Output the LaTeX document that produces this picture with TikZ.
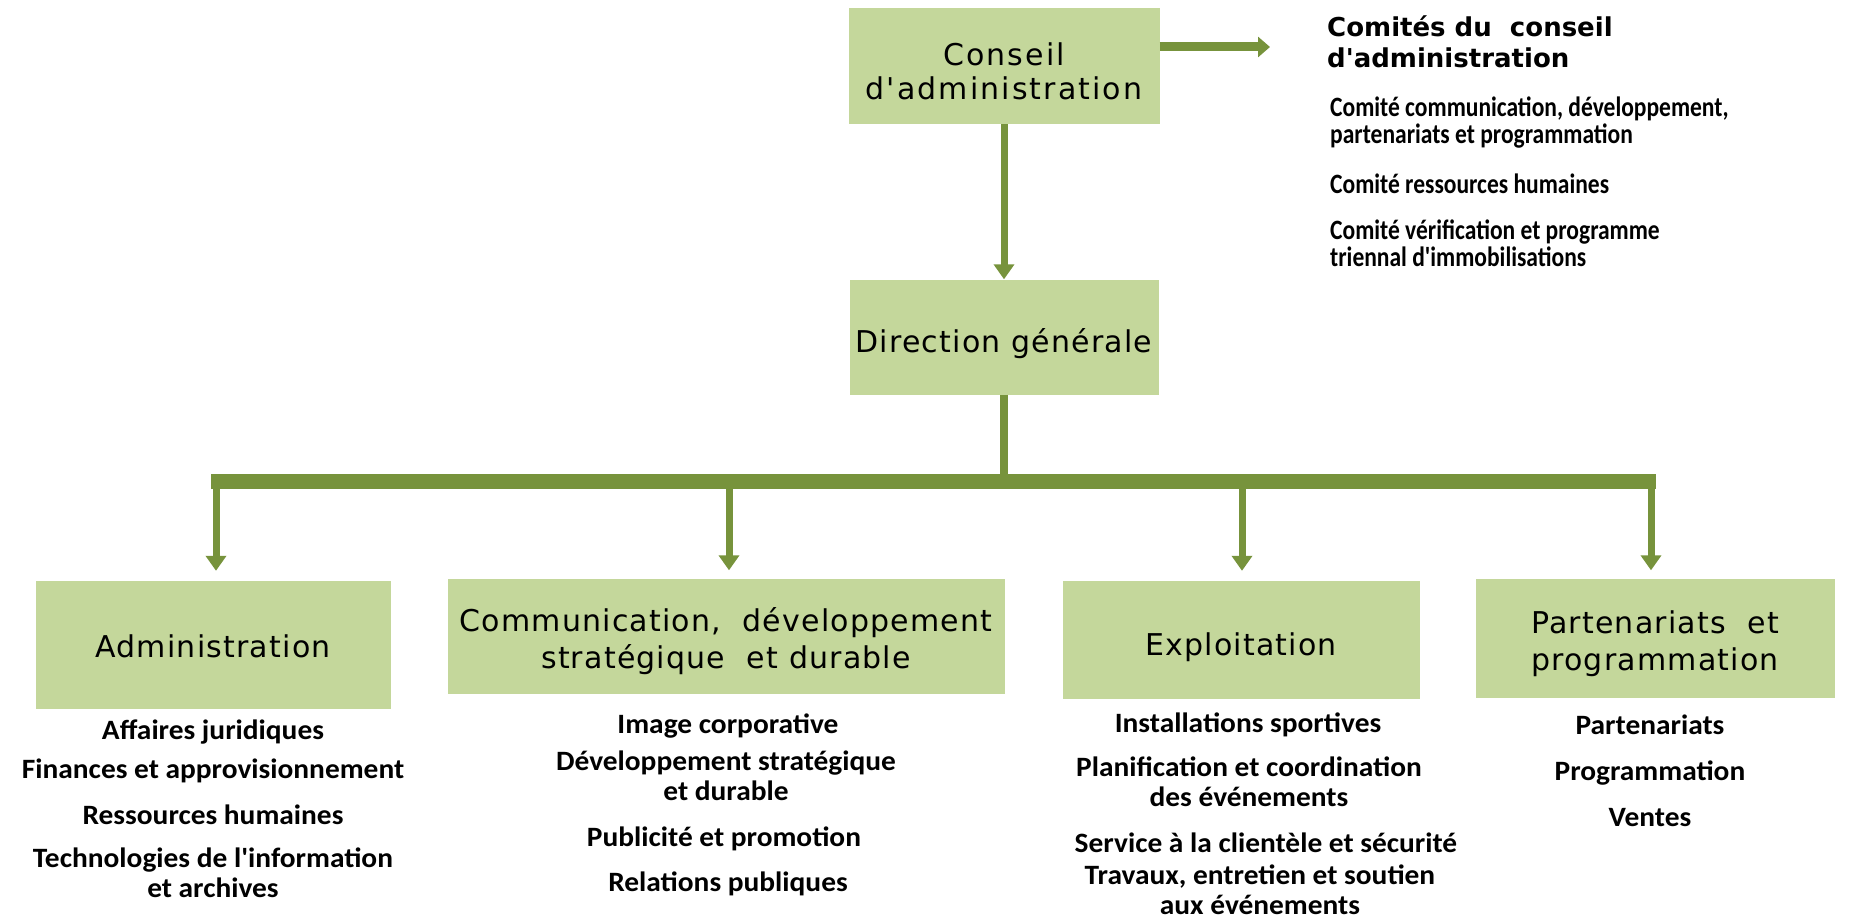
\documentclass[tikz,border=0pt]{standalone}
\usepackage{fontspec}
\setmainfont{Carlito}
\newfontfamily\boxfont{DejaVu Sans}[LetterSpace=4]
\newfontfamily\wideboxfont{DejaVu Sans}[LetterSpace=7]
\newfontfamily\listfont{Carlito}[FakeStretch=1.05]
\newfontfamily\comfont{Carlito}[FakeStretch=0.84]
\newfontfamily\headfont{DejaVu Sans}
\usetikzlibrary{arrows.meta}
\definecolor{boxgreen}{HTML}{C4D79B}
\definecolor{arrgreen}{HTML}{77933C}
\begin{document}
\begin{tikzpicture}[x=1pt,y=-1pt,
  box/.style={fill=boxgreen, draw=none, inner sep=0pt},
  btext/.style={inner sep=0pt, align=center,
    font=\boxfont\fontsize{30}{37}\selectfont},
  item/.style={inner sep=0pt, align=center,
    font=\listfont\bfseries\fontsize{28}{30}\selectfont},
  citem/.style={inner sep=0pt, align=left, anchor=west,
    font=\comfont\bfseries\fontsize{28}{27}\selectfont},
  arr/.style={draw=arrgreen, line width=7pt, -{Triangle[width=20pt,length=15pt]}, arrgreen},
  bar/.style={draw=arrgreen, line width=15pt}]
\useasboundingbox (0,0) rectangle (1858,923);

% boxes
\node[box, minimum width=311pt, minimum height=116pt] (conseil) at (1004,66) {};
\node[btext, font=\wideboxfont\fontsize{30}{34}\selectfont] (conseilT) at (1004,71) {Conseil\\d'administration};
\node[box, minimum width=309pt, minimum height=115pt] (direction) at (1004,337) {};
\node[btext] (directionT) at (1004,344) {Direction générale};
\node[box, minimum width=355pt, minimum height=128pt] (admin) at (213,645) {};
\node[btext] (adminT) at (213,646) {Administration};
\node[box, minimum width=557pt, minimum height=115pt] (comm) at (726,636) {};
\node[btext] (commT) at (726,641) {Communication, \ développement\\stratégique \ et durable};
\node[box, minimum width=357pt, minimum height=118pt] (exploit) at (1241,640) {};
\node[btext] (exploitT) at (1241,647) {Exploitation};
\node[box, minimum width=359pt, minimum height=119pt] (partner) at (1655,638) {};
\node[btext] (partnerT) at (1655,644) {Partenariats \ et\\programmation};

% committees
\node[citem, font=\headfont\bfseries\fontsize{26}{31}\selectfont] (cth) at (1327,42) {Comités du \ conseil\\d'administration};
\node[citem] (c1) at (1330,123) {Comité communication, développement,\\partenariats et programmation};
\node[citem] (c2) at (1330,184) {Comité ressources humaines};
\node[citem] (c3) at (1330,243) {Comité vérification et programme\\triennal d'immobilisations};

% connectors
\coordinate (cmt) at (1270,47);
\draw[draw=arrgreen, line width=9pt, -{Triangle[width=20pt,length=12pt]}] (conseil.east |- cmt) -- (cmt);
\draw[arr] (conseil.south) -- (direction.north);
\coordinate (barL) at (211,481);
\coordinate (barR) at (1656,481);
\draw[draw=arrgreen, line width=8pt] (direction.south) -- (direction.south |- barL);
\draw[bar] (barL) -- (barR);
\coordinate (d1) at (216,481);
\coordinate (d2) at (729,481);
\coordinate (d3) at (1242,481);
\coordinate (d4) at (1651,481);
\draw[arr] (d1) -- ([yshift=10pt]d1 |- admin.north);
\draw[arr] (d2) -- ([yshift=8pt]d2 |- comm.north);
\draw[arr] (d3) -- ([yshift=10pt]d3 |- exploit.north);
\draw[arr] (d4) -- ([yshift=8pt]d4 |- partner.north);

% lists
\node[item] (a1) at (213,732) {Affaires juridiques};
\node[item] (a2) at (213,771) {Finances et approvisionnement};
\node[item] (a3) at (213,815) {Ressources humaines};
\node[item] (a4) at (213,873) {Technologies de l'information\\et archives};

\node[item] (b1) at (728,726) {Image corporative};
\node[item] (b2) at (726,776) {Développement stratégique\\et durable};
\node[item] (b3) at (724,839) {Publicité et promotion};
\node[item] (b4) at (728,884) {Relations publiques};

\node[item] (e1) at (1248,725) {Installations sportives};
\node[item] (e2) at (1249,782) {Planification et coordination\\des événements};
\node[item] (e3) at (1266,843) {Service à la clientèle et sécurité};
\node[item] (e4) at (1260,890) {Travaux, entretien et soutien\\aux événements};

\node[item] (p1) at (1650,725) {Partenariats};
\node[item] (p2) at (1650,773) {Programmation};
\node[item] (p3) at (1650,818) {Ventes};
\end{tikzpicture}
\end{document}
